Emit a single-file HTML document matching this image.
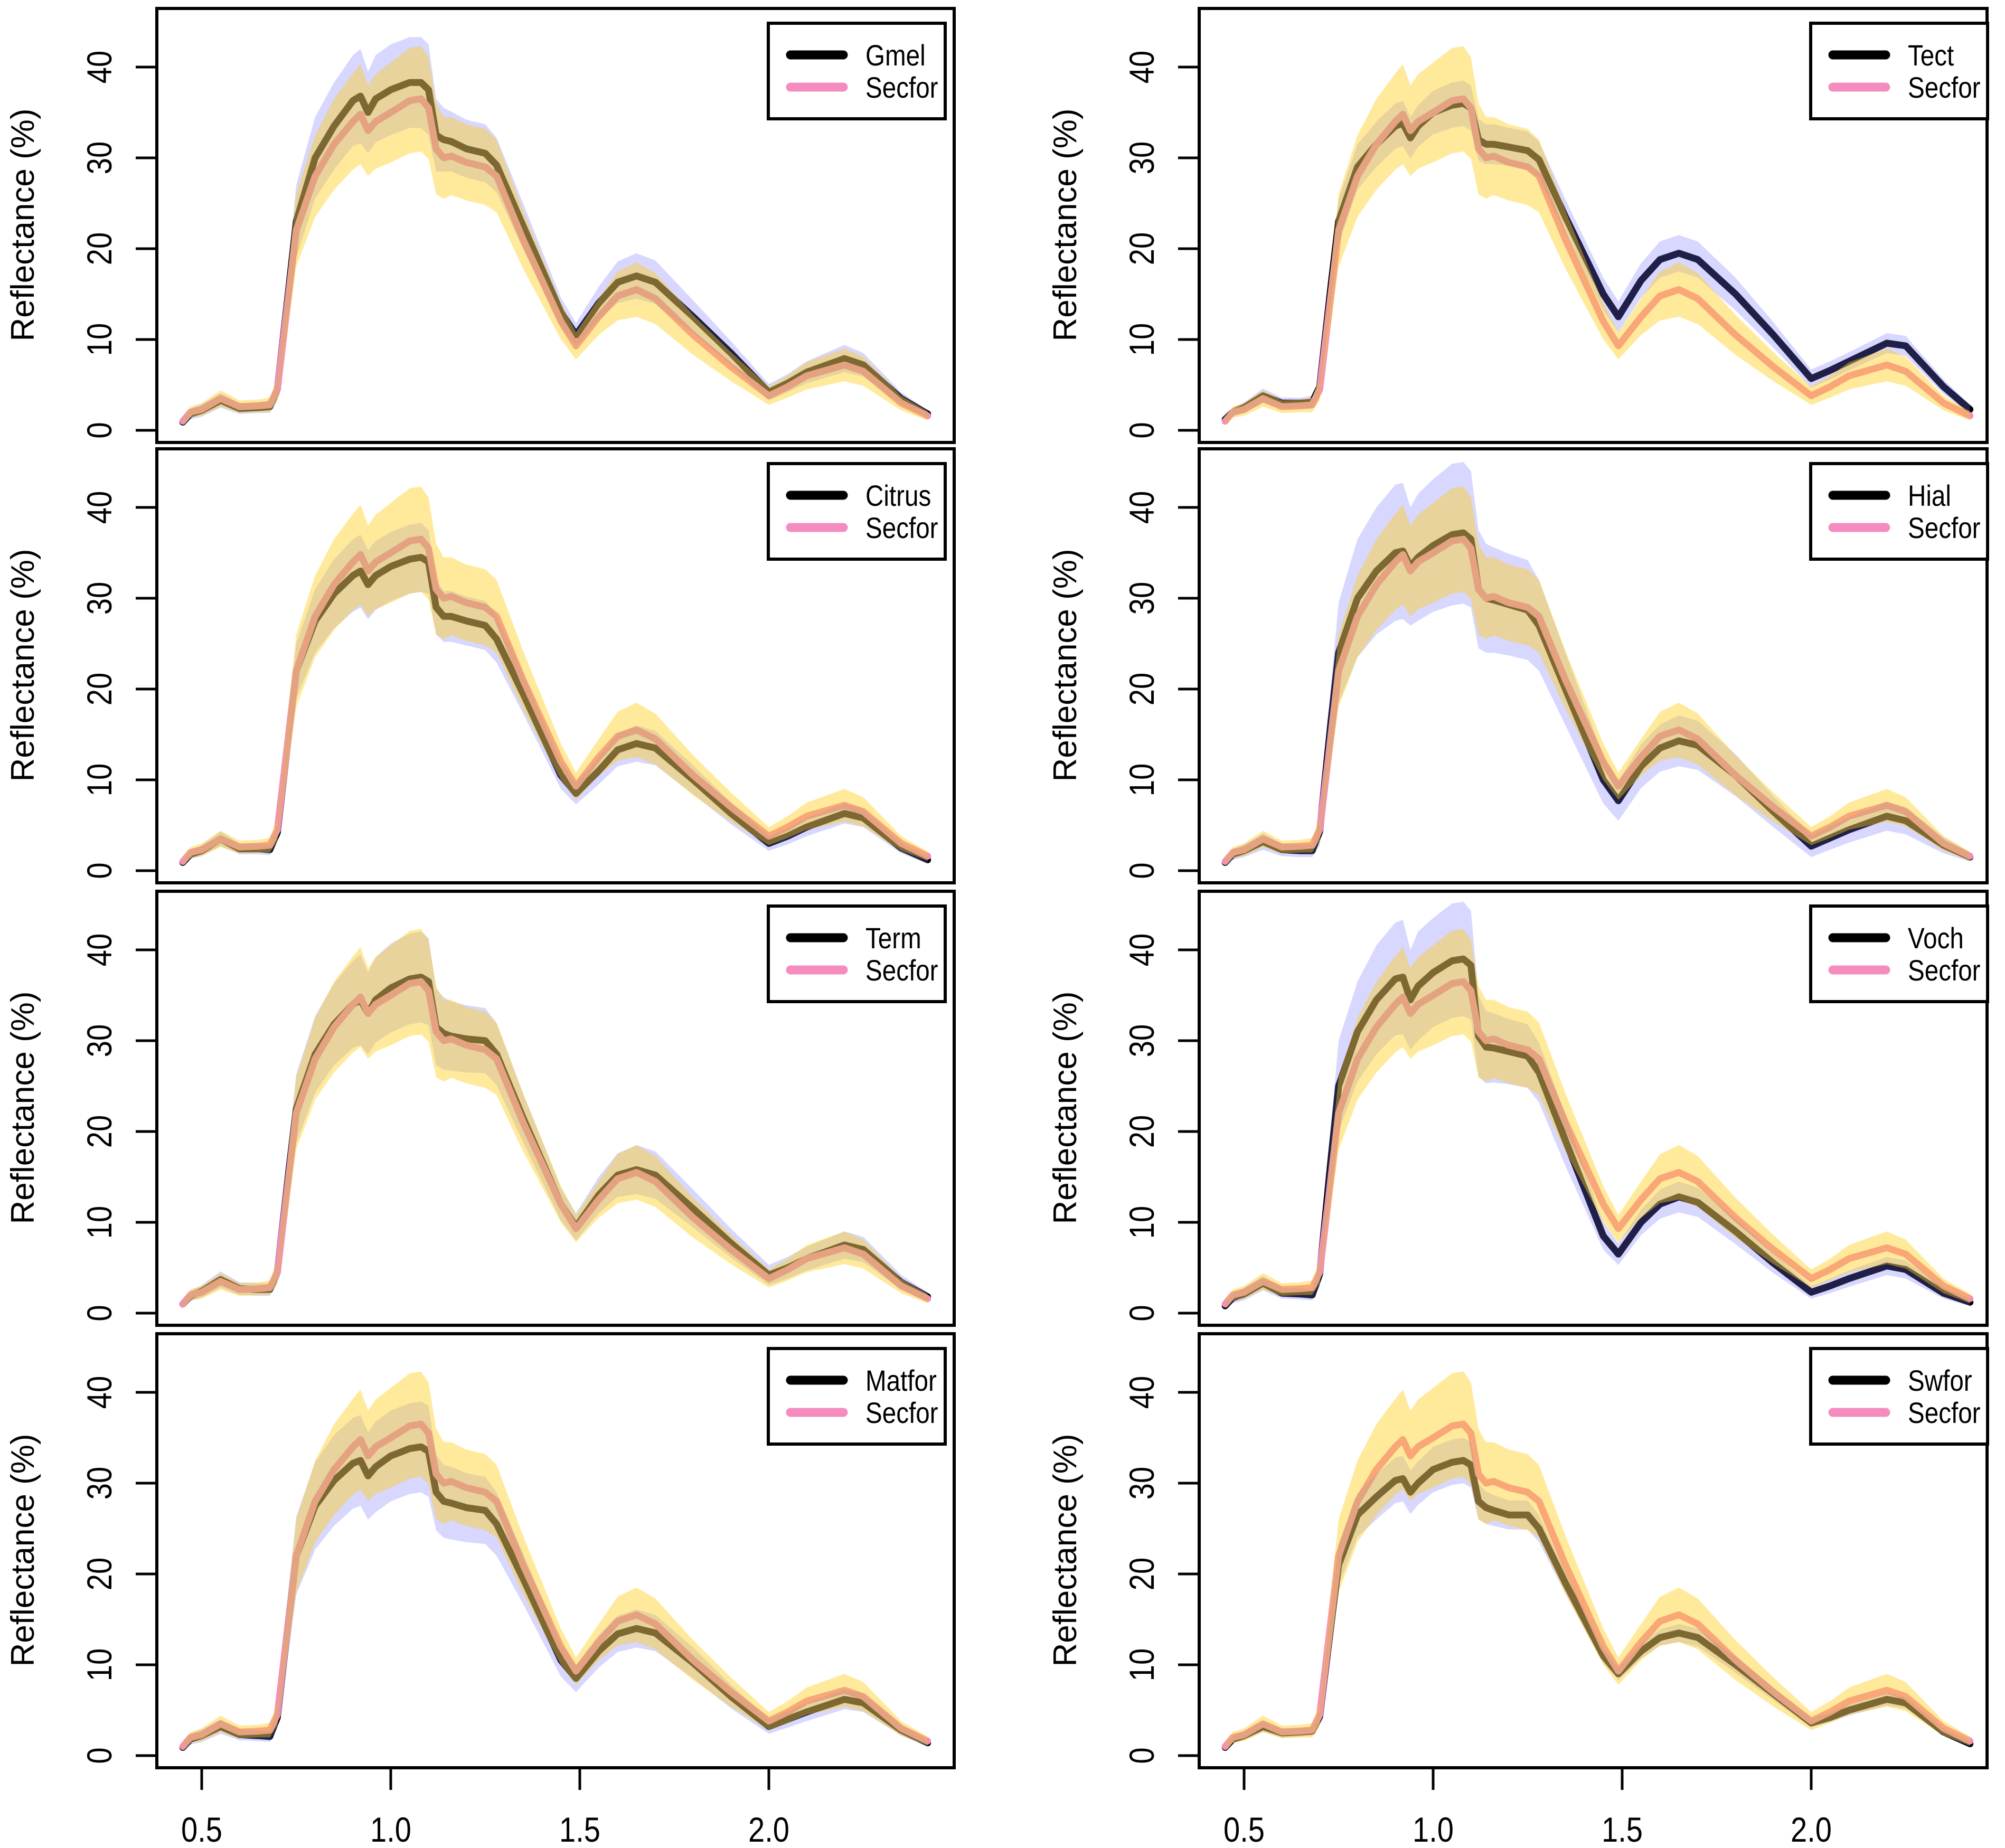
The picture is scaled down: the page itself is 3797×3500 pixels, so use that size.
<!DOCTYPE html>
<html><head><meta charset="utf-8"><style>
html,body{margin:0;padding:0;background:#fff}
svg{display:block}
text{font-family:"Liberation Sans",sans-serif;fill:#000}
</style></head>
<body>
<svg id="chart" xmlns="http://www.w3.org/2000/svg" width="3797" height="3500" viewBox="0 0 3797 3500"></svg>
<script>
const wavelengths=[0.45,0.47,0.50,0.55,0.60,0.65,0.68,0.70,0.73,0.75,0.80,0.85,0.90,0.92,0.94,0.96,1.00,1.05,1.08,1.10,1.12,1.14,1.16,1.20,1.25,1.28,1.35,1.45,1.49,1.55,1.60,1.65,1.70,1.80,1.90,2.00,2.05,2.10,2.20,2.25,2.35,2.42];
const secforMean=[1.0,2.0,2.3,3.5,2.6,2.7,2.8,4.5,15,22,28,31.5,34,34.8,33,34,35,36.3,36.5,35.5,31,30,30.2,29.5,29,28,21,12,9.3,12.5,14.8,15.5,14.5,10.5,7,3.8,4.8,6,7.2,6.5,3,1.6];
const secforSd=[0.4,0.6,0.7,0.9,0.7,0.7,0.8,1.2,3,4,4.5,5,5.3,5.5,5,5.2,5.5,5.8,5.8,5.6,5,4.5,4.3,4.2,4.2,4,3.2,2,1.5,2,2.7,3,2.8,2.2,1.6,1.0,1.2,1.5,1.8,1.6,0.8,0.5];
const speciesNames=["Gmel","Tect","Citrus","Hial","Term","Voch","Matfor","Swfor"];
const gmelMean=[0.9,1.8,2.2,3.3,2.4,2.5,2.6,4.5,15.5,23,30,33.5,36.3,36.8,35,36.5,37.5,38.3,38.3,37.5,32.5,32,31.8,31,30.5,29.2,22.5,13,10.5,14,16.3,17,16.3,12.5,8.5,4.2,5.2,6.4,7.9,7.2,3.5,1.8];
const gmelSd=[0.4,0.6,0.7,0.8,0.6,0.6,0.7,1.2,3,4,4.5,4.8,5,5.2,4.5,4.8,5,5,5,5,4,3.5,3.3,3.2,3.2,3,2.5,1.6,1.3,1.8,2.3,2.5,2.4,1.8,1.3,0.9,1.0,1.2,1.5,1.3,0.7,0.4];
const tectMean=[1.2,2.0,2.5,3.8,3.0,3.0,3.1,4.8,16,23,29,31.5,33.5,33.8,32.2,33.5,35,35.8,36,35.5,32,31.5,31.5,31.2,30.8,29.8,23.5,15,12.5,16.5,18.8,19.5,18.8,15,10.5,5.7,6.6,7.6,9.6,9.3,4.8,2.3];
const tectSd=[0.4,0.5,0.6,0.8,0.6,0.6,0.7,1.0,2,2.5,2.5,2.5,2.5,2.5,2.3,2.3,2.4,2.5,2.5,2.5,2.3,2.2,2.2,2.1,2.1,2.0,1.9,1.8,1.7,1.9,2.0,2.0,2.0,1.8,1.4,1.0,1.0,1.0,1.1,1.1,0.8,0.5];
const citrusMean=[0.9,1.8,2.2,3.5,2.4,2.4,2.3,4.2,15,22,27.5,30.5,32.5,33,31.5,32.5,33.5,34.3,34.5,34,29,28,28,27.5,27,25.5,19.5,10.5,8.5,11,13.3,14,13.5,10,6.3,3.0,3.8,4.8,6.3,5.8,2.5,1.2];
const citrusSd=[0.3,0.5,0.6,0.8,0.6,0.6,0.6,1.0,2.5,3,3.5,3.8,4,4,3.8,3.8,3.8,3.8,3.8,3.5,3,2.8,2.8,2.7,2.7,2.6,2.2,1.5,1.2,1.5,1.8,2,1.9,1.6,1.2,0.8,0.9,1,1.1,1,0.6,0.4];
const hialMean=[0.9,1.8,2.2,3.2,2.3,2.2,2.2,4.3,16.5,24,30,33,35,35.2,33.5,34.5,35.8,37,37.2,36.5,31,30,29.8,29.3,28.7,27,20,10,7.7,11.5,13.5,14.3,13.8,10.5,6.5,2.7,3.6,4.5,6,5.5,2.8,1.5];
const hialSd=[0.4,0.6,0.7,0.9,0.7,0.7,0.7,1.5,4,5.5,6.5,7,7.5,7.5,6.5,7,7.3,7.8,7.8,7.5,6.5,6,5.8,5.6,5.5,5,4,2.6,2.2,2.4,2.6,2.8,2.7,2.3,1.7,1.2,1.3,1.4,1.6,1.5,0.9,0.5];
const termMean=[1.0,1.9,2.4,3.7,2.7,2.6,2.6,4.5,15.5,22.5,28.5,31.8,34,34.5,33,34.5,35.8,36.8,37,36.5,31.5,30.8,30.5,30.2,30,28.5,21.5,12,9.5,13,15.2,15.8,15.2,11.5,7.7,4.2,5.0,6.0,7.5,7.0,3.4,1.8];
const termSd=[0.4,0.6,0.7,0.9,0.7,0.7,0.7,1.2,3,3.8,4.2,4.5,4.8,5,4.5,4.7,4.9,5,5,4.8,4.2,4,3.8,3.7,3.6,3.4,2.7,1.8,1.5,2,2.4,2.7,2.6,2.1,1.6,1.1,1.2,1.3,1.5,1.4,0.8,0.5];
const vochMean=[0.8,1.7,2.1,3.3,2.2,2.1,2.0,4.3,17,25,31,34.5,36.8,37,34.5,36,37.5,38.8,39,38.3,30.5,29.3,29.2,28.8,28.3,26.5,19,8.5,6.5,10,12,12.8,12.2,9,5.5,2.3,3.0,3.8,5.2,4.8,2.2,1.2];
const vochSd=[0.4,0.6,0.7,0.8,0.6,0.6,0.6,1.4,3.8,5,5.5,6,6.2,6.3,5.5,6,6,6.3,6.3,6,4.5,4,3.8,3.6,3.5,3.3,2.8,1.5,1.2,1.4,1.6,1.7,1.6,1.4,1.1,0.7,0.8,0.9,1,1,0.6,0.4];
const matforMean=[0.9,1.8,2.2,3.2,2.3,2.2,2.1,4.2,15,22,27.5,30.3,32.2,32.5,30.8,31.8,33,33.8,34,33.5,29,28,27.8,27.3,27,25.5,19.5,10.5,8.5,11.5,13.4,14,13.5,10.2,6.5,3.2,4.0,4.8,6.2,5.8,2.8,1.4];
const matforSd=[0.4,0.6,0.7,0.8,0.6,0.6,0.6,1.2,3.5,4.3,4.8,5,5,5,4.8,5,5,5,5,5,4.2,4,4,3.8,3.7,3.5,2.8,1.8,1.5,1.8,2,2.1,2,1.7,1.3,0.8,0.9,1,1.1,1,0.6,0.4];
const swforMean=[0.9,1.8,2.2,3.2,2.5,2.6,2.7,4.3,14.5,21,26.5,28.5,30.3,30.5,29,30,31.5,32.3,32.5,32,28,27.3,27,26.5,26.5,25,19,11,9,11.5,13,13.5,13,10,6.8,3.6,4.2,5,6.2,5.8,2.6,1.3];
const swforSd=[0.3,0.4,0.5,0.6,0.5,0.5,0.5,0.8,2,2.3,2.4,2.5,2.5,2.5,2.4,2.4,2.5,2.5,2.5,2.5,2,1.8,1.7,1.6,1.6,1.5,1.2,0.8,0.7,0.8,0.9,1,1,0.9,0.7,0.5,0.5,0.6,0.7,0.6,0.4,0.3];
const yTicks=[0,10,20,30,40];
const xTicks=[0.5,1.0,1.5,2.0];
const xTickLabels=["0.5","1.0","1.5","2.0"];

const speciesMeans=[gmelMean,tectMean,citrusMean,hialMean,termMean,vochMean,matforMean,swforMean];
const speciesSds=[gmelSd,tectSd,citrusSd,hialSd,termSd,vochSd,matforSd,swforSd];

const NS="http://www.w3.org/2000/svg";
const svg=document.getElementById('chart');
const colLeft=[297,2271], colRight=[1807,3763];
const rowTop=[16,850,1688,2526], panelH=822;
function mk(tag,attrs,parent){const e=document.createElementNS(NS,tag);for(const k in attrs)e.setAttribute(k,attrs[k]);(parent||svg).appendChild(e);return e;}

for(let i=0;i<8;i++){
  const col=i%2,row=Math.floor(i/2);
  const L=colLeft[col],R=colRight[col],T=rowTop[row];
  const xs=v=>L+85+(v-0.5)*716;
  const ys=v=>T+799-v*17.2;
  const g=mk('g',{});
  
  
  const mean=speciesMeans[i],sd=speciesSds[i];
  function linePts(m){return wavelengths.map((w,k)=>xs(w).toFixed(1)+','+ys(m[k]).toFixed(1)).join(' ');}
  function bandPts(m,s){
    const up=wavelengths.map((w,k)=>xs(w).toFixed(1)+','+ys(m[k]+s[k]).toFixed(1));
    const lo=wavelengths.map((w,k)=>xs(w).toFixed(1)+','+ys(Math.max(0,m[k]-s[k])).toFixed(1)).reverse();
    return up.concat(lo).join(' ');
  }
  const l1=mk('polyline',{points:linePts(mean),fill:'none',stroke:'#000','stroke-width':13,'stroke-linejoin':'round','stroke-linecap':'round'},g);
  
  
  const l2=mk('polyline',{points:linePts(secforMean),fill:'none',stroke:'#f58cc0','stroke-width':13,'stroke-linejoin':'round','stroke-linecap':'round'},g);
  
  
  const b1=mk('polygon',{points:bandPts(mean,sd),fill:'rgba(110,110,255,0.28)'},g);
  
  
  const b2=mk('polygon',{points:bandPts(secforMean,secforSd),fill:'rgba(255,205,20,0.42)'},g);
  
  
  const box=mk('rect',{x:L,y:T,width:R-L,height:panelH,fill:'none',stroke:'#000','stroke-width':6},g);
  
  
  yTicks.forEach(v=>{
    const y=ys(v);
    const t=mk('line',{x1:L-40,x2:L,y1:y,y2:y,stroke:'#000','stroke-width':5},g);
    
    
    const tx=mk('text',{x:0,y:0,'font-size':66,'text-anchor':'middle',transform:`translate(${L-86},${y}) rotate(-90) scale(0.85,1)`},g);
    tx.textContent=String(v);
    
    
  });
  const yt=mk('text',{x:0,y:0,'font-size':62,'text-anchor':'middle',transform:`translate(${L-233},${T+410}) rotate(-90)`},g);
  yt.textContent='Reflectance (%)';
  
  
  const lg=mk('g',{},g);
  
  
  const lr=mk('rect',{x:L+1158,y:T+28,width:335,height:181,fill:'#fff',stroke:'#000','stroke-width':6},lg);
  
  
  [[speciesNames[i],'#000',88],['Secfor','#f58cc0',149]].forEach(([nm,c,dy])=>{
    const e=mk('line',{x1:L+1200,x2:L+1300,y1:T+dy,y2:T+dy,stroke:c,'stroke-width':17,'stroke-linecap':'round'},lg);
    
    
    const tx=mk('text',{x:0,y:0,'font-size':56,transform:`translate(${L+1342},${T+dy+20}) scale(0.85,1)`},lg);
    tx.textContent=nm;
    
    
  });
  if(row===3){
    xTicks.forEach((v,k)=>{
      const x=xs(v);
      const t=mk('line',{x1:x,x2:x,y1:T+panelH,y2:T+panelH+42,stroke:'#000','stroke-width':5},g);
      
      
      const tx=mk('text',{x:0,y:0,'font-size':66,'text-anchor':'middle',transform:`translate(${x},${T+panelH+140}) scale(0.85,1)`},g);
      tx.textContent=xTickLabels[k];
      
      
    });
  }
}
</script>
</body></html>
